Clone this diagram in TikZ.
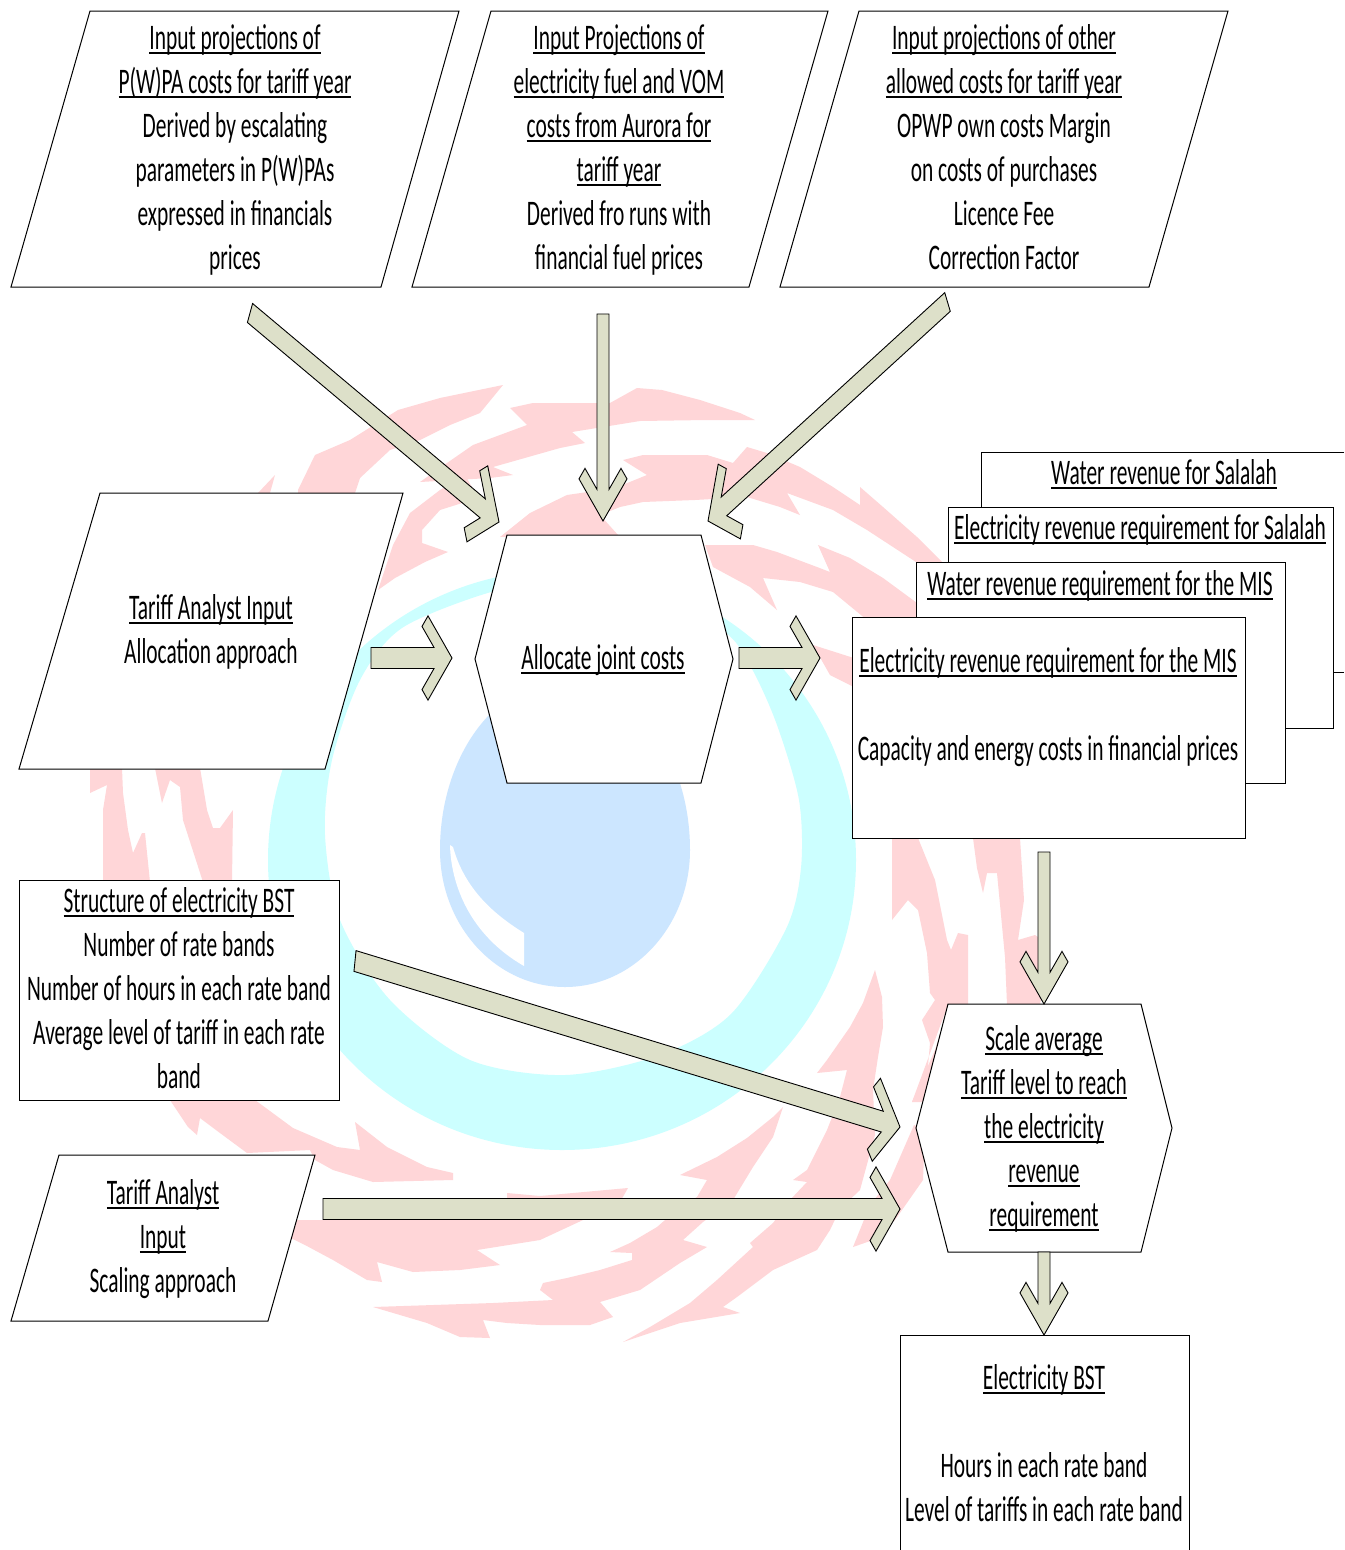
\documentclass[tikz,border=0pt]{standalone}
\usepackage{fontspec}
\setmainfont[FakeStretch=0.595]{Carlito}
\usetikzlibrary{calc}
\definecolor{wmred}{RGB}{255,214,216}
\definecolor{wmcyan}{RGB}{204,255,255}
\definecolor{wmblue}{RGB}{204,230,255}
\definecolor{arrowfill}{RGB}{221,224,201}
\def\squeeze{0.57}
\newcommand\ulx[1]{\setbox0\hbox{#1}\rlap{\rule[-4.8pt]{\wd0}{1.8pt}}\box0}
\tikzset{
  outline/.style={draw=black,line width=1pt,fill=white,line join=miter},
  blockshape/.style={draw=black,line width=0.9pt,fill=arrowfill,line join=miter},
  label/.style={anchor=north,inner sep=0pt,align=center,text=black,
    font=\fontsize{36}{44}\selectfont,
    execute at begin node={\rule{0pt}{28pt}},
    execute at end node={\rule[-10pt]{0pt}{10pt}}},
}
\newcommand\blockarrow[2]{%
  \path let \p1=(#1),\p2=(#2) in \pgfextra{%
    \pgfmathsetmacro\bdx{\x2-\x1}%
    \pgfmathsetmacro\bdy{(\y2-\y1)*\squeeze}%
    \pgfmathsetmacro\blen{veclen(\bdx,\bdy)}%
    \pgfmathsetmacro\bma{\bdx/\blen}%
    \pgfmathsetmacro\bmb{\bdy/\blen/\squeeze}%
    \pgfmathsetmacro\bmc{-\bdy/\blen}%
    \pgfmathsetmacro\bmd{\bdx/\blen/\squeeze}%
    \xdef\barrowcm{\bma,\bmb,\bmc,\bmd}%
    \xdef\barrowlen{\blen}%
  };
  \edef\barrowopen{\noexpand\begin{scope}[cm={\barrowcm,(#2)}]}%
  \barrowopen
    \draw[blockshape] (-\barrowlen,6) -- (-18,6) -- (-30,18) -- (-24,24) -- (0,0)
      -- (-24,-24) -- (-30,-18) -- (-18,-6) -- (-\barrowlen,-6) -- cycle;
  \end{scope}
}
\begin{document}
\begin{tikzpicture}[x=1pt,y=-1pt]
\useasboundingbox (0,0) rectangle (1344,1550);
\fill[white] (0,0) rectangle (1344,1550);
% watermark: red swirl
\fill[wmred] (503,385) -- (440,398) -- (398,410) -- (350,440) -- (315,455) -- (298,490) -- (298,493) -- (355,493) -- (360,478) -- (390,450) -- (420,440) -- (450,425) -- (480,413) -- cycle;
\fill[wmred] (258,493) -- (275,475) -- (270,493) -- cycle;
\fill[wmred] (510,408) -- (533,403) -- (610,403) -- (637,388) -- (662,390) -- (700,400) -- (740,413) -- (755,420) -- (707,420) -- (640,421) -- (572,432) -- (585,443) -- (560,448) -- (493,467) -- (513,475) -- (490,478) -- (420,482) -- (447,463) -- (473,445) -- (527,425) -- cycle;
\fill[wmred] (378,590) -- (393,545) -- (410,513) -- (440,490) -- (465,475) -- (478,498) -- (440,510) -- (422,530) -- (422,543) -- (448,552) -- (425,562) -- (395,578) -- cycle;
\fill[wmred] (500,537) -- (530,513) -- (567,495) -- (615,488) -- (647,475) -- (623,460) -- (643,455) -- (707,455) -- (733,463) -- (747,447) -- (767,453) -- (800,467) -- (833,487) -- (860,505) -- (860,487) -- (883,507) -- (917,537) -- (940,560) -- (950,570) -- (916,562) -- (867,530) -- (833,510) -- (787,493) -- (800,515) -- (780,507) -- (747,497) -- (695,500) -- (643,502) -- (620,507) -- (600,515) -- (618,535) -- (500,537) -- cycle;
\fill[wmred] (705,545) -- (753,545) -- (777,552) -- (817,567) -- (830,572) -- (818,545) -- (850,558) -- (883,578) -- (917,603) -- (920,620) -- (867,620) -- (833,592) -- (800,582) -- (763,578) -- (777,610) -- (750,587) -- (713,567) -- cycle;
\fill[wmred] (813,645) -- (860,660) -- (860,690) -- (830,675) -- cycle;
\fill[wmred] (892,838) -- (918,838) -- (935,880) -- (947,940) -- (951,950) -- (958,933) -- (968,935) -- (968,1010) -- (946,1010) -- (912,1102) -- (925,1100) -- (930,1043) -- (922,1020) -- (935,1000) -- (930,993) -- (927,953) -- (918,910) -- (908,900) -- (892,920) -- cycle;
\fill[wmred] (968,1003) -- (950,1003) -- (935,1050) -- (912,1102) -- (940,1102) -- cycle;
\fill[wmred] (914,1125) -- (890,1180) -- (870,1205) -- (853,1247) -- (873,1240) -- (895,1220) -- (923,1180) -- (925,1130) -- cycle;
\fill[wmred] (973,838) -- (1020,838) -- (1024,900) -- (1018,940) -- (1035,935) -- (1050,945) -- (1040,1005) -- (1007,1005) -- (1005,957) -- (997,873) -- (987,873) -- (983,893) -- (977,868) -- cycle;
\fill[wmred] (875,970) -- (882,997) -- (883,1027) -- (878,1057) -- (873,1090) -- (875,1135) -- (860,1190) -- (840,1209) -- (830,1230) -- (817,1250) -- (773,1270) -- (737,1297) -- (723,1307) -- (740,1313) -- (680,1323) -- (623,1342) -- (650,1327) -- (690,1303) -- (717,1280) -- (753,1247) -- (750,1243) -- (773,1223) -- (790,1200) -- (807,1182) -- (793,1180) -- (807,1170) -- (827,1130) -- (840,1097) -- (847,1070) -- (817,1073) -- (827,1060) -- (850,1027) -- (863,1003) -- cycle;
\fill[wmred] (783,1107) -- (773,1137) -- (753,1167) -- (733,1200) -- (703,1222) -- (683,1240) -- (707,1247) -- (680,1263) -- (640,1290) -- (600,1302) -- (613,1317) -- (590,1325) -- (540,1325) -- (507,1323) -- (483,1320) -- (490,1338) -- (460,1337) -- (427,1323) -- (373,1307) -- (493,1303) -- (553,1300) -- (540,1290) -- (543,1283) -- (567,1278) -- (600,1270) -- (632,1260) -- (632,1253) -- (610,1252) -- (630,1243) -- (657,1227) -- (680,1207) -- (697,1197) -- (707,1180) -- (680,1175) -- (717,1157) -- (747,1138) -- (773,1117) -- cycle;
\fill[wmred] (297,1220) -- (583,1220) -- (540,1240) -- (477,1250) -- (500,1265) -- (460,1270) -- (413,1272) -- (377,1262) -- (382,1282) -- (367,1280) -- (333,1260) -- (305,1245) -- (285,1235) -- cycle;
\fill[wmred] (507,1193) -- (540,1196) -- (628,1188) -- (620,1202) -- (507,1202) -- cycle;
\fill[wmred] (170,1100) -- (255,1100) -- (293,1128) -- (337,1147) -- (360,1150) -- (355,1122) -- (387,1147) -- (427,1167) -- (453,1173) -- (453,1180) -- (373,1182) -- (333,1170) -- (315,1160) -- (310,1150) -- (247,1153) -- (220,1133) -- (200,1118) -- (197,1135) -- (188,1127) -- cycle;
\fill[wmred] (90,768) -- (122,768) -- (123,793) -- (128,830) -- (133,853) -- (142,833) -- (145,833) -- (150,882) -- (103,882) -- (103,810) -- (107,785) -- (90,793) -- cycle;
\fill[wmred] (155,768) -- (200,768) -- (207,810) -- (213,828) -- (220,828) -- (233,810) -- (232,882) -- (203,882) -- (183,820) -- (180,787) -- (170,780) -- (162,803) -- cycle;
% watermark: cyan crescent
\fill[wmcyan,even odd rule] (562,860) ellipse [x radius=294,y radius=290]
  plot[smooth cycle] coordinates {(325,835) (332,760) (360,680) (402,628) (491,592) (560,582) (650,590) (725,632) (752,669) (777,725) (799,800) (801,868) (786,929) (731,1014) (660,1055) (565,1075) (470,1060) (390,1000) (340,920)};
% watermark: blue drop
\fill[wmblue] (440,850) arc [start angle=180,end angle=0,x radius=125,y radius=137]
  arc [start angle=0,end angle=-180,x radius=125,y radius=170] -- cycle;
\fill[white] (450,845) .. controls (451,885) and (470,935) .. (524,966) -- (524,933) .. controls (495,915) and (465,890) .. (453,847) -- cycle;
% input parallelograms
\draw[outline] (90,11) -- (459,11) -- (381,287) -- (11,287) -- cycle;
\draw[outline] (491,11) -- (828,11) -- (749,287) -- (412,287) -- cycle;
\draw[outline] (859,11) -- (1228,11) -- (1149,287) -- (780,287) -- cycle;
\draw[outline] (100,493) -- (403,493) -- (325,769) -- (19,769) -- cycle;
\draw[outline] (59,1155) -- (315,1155) -- (268,1321) -- (11,1321) -- cycle;
% hexagons
\draw[outline] (507,535) -- (701,535) -- (733,659) -- (701,783) -- (507,783) -- (475,659) -- cycle;
\draw[outline] (948,1004) -- (1141,1004) -- (1172,1128) -- (1141,1252) -- (948,1252) -- (916,1128) -- cycle;
% stacked output boxes
\draw[outline] (1344,452) -- (981,452) -- (981,672) -- (1344,672);
\draw[outline] (948,507) rectangle (1333,728);
\draw[outline] (916,562) rectangle (1285,783);
\draw[outline] (852,617) rectangle (1245,838);
\draw[outline] (19,880) rectangle (339,1100);
\draw[outline] (900,1550) -- (900,1335) -- (1189,1335) -- (1189,1550);
% text
\node[label] (pwpa) at (235,24) {\ulx{Input projections of}\\\ulx{P(W)PA costs for tariff year}\\Derived by escalating\\parameters in P(W)PAs\\expressed in financials\\prices};
\node[label] (fuel) at (619,24) {\ulx{Input Projections of}\\\ulx{electricity fuel and VOM}\\\ulx{costs from Aurora for}\\\ulx{tariff year}\\Derived fro runs with\\financial fuel prices};
\node[label] (other) at (1004,24) {\ulx{Input projections of other}\\\ulx{allowed costs for tariff year}\\OPWP own costs Margin\\on costs of purchases\\Licence Fee\\Correction Factor};
\node[label] (analystA) at (211,594) {\ulx{Tariff Analyst Input}\\Allocation approach};
\node[label] (allocate) at (603,641) {\ulx{Allocate joint costs}};
\node[label] (waterSal) at (1164,456) {\ulx{Water revenue for Salalah}};
\node[label] (elecSal) at (1140,511) {\ulx{Electricity revenue requirement for Salalah}};
\node[label] (waterMIS) at (1100,567) {\ulx{Water revenue requirement for the MIS}};
\node[label] (elecMIS) at (1048,647) {\ulx{Electricity revenue requirement for the MIS}\\[44pt]Capacity and energy costs in financial prices};
\node[label] (structure) at (179,887) {\ulx{Structure of electricity BST}\\Number of rate bands\\Number of hours in each rate band\\Average level of tariff in each rate\\band};
\node[label] (analystB) at (163,1179) {\ulx{Tariff Analyst}\\\ulx{Input}\\Scaling approach};
\node[label] (scale) at (1044,1025) {\ulx{Scale average}\\\ulx{Tariff level to reach}\\\ulx{the electricity}\\\ulx{revenue}\\\ulx{requirement}};
\node[label] (bst) at (1044,1364) {\ulx{Electricity BST}\\[44pt]Hours in each rate band\\Level of tariffs in each rate band};
% block arrows
\coordinate (t1) at (250,313); \coordinate (h1) at (499,522);
\coordinate (t2) at (603,314); \coordinate (h2) at (603,521);
\coordinate (t3) at (947.5,302); \coordinate (h3) at (708,521);
\coordinate (t4) at (371,658); \coordinate (h4) at (452,658);
\coordinate (t5) at (739,658); \coordinate (h5) at (820,658);
\coordinate (t6) at (1044,852); \coordinate (h6) at (1044,1004);
\coordinate (t7) at (355,961); \coordinate (h7) at (900,1127);
\coordinate (t8) at (323,1209); \coordinate (h8) at (900,1209);
\coordinate (t9) at (1044,1252); \coordinate (h9) at (1044,1335);
\blockarrow{t1}{h1}
\blockarrow{t2}{h2}
\blockarrow{t3}{h3}
\blockarrow{t4}{h4}
\blockarrow{t5}{h5}
\blockarrow{t6}{h6}
\blockarrow{t7}{h7}
\blockarrow{t8}{h8}
\blockarrow{t9}{h9}
\end{tikzpicture}
\end{document}
